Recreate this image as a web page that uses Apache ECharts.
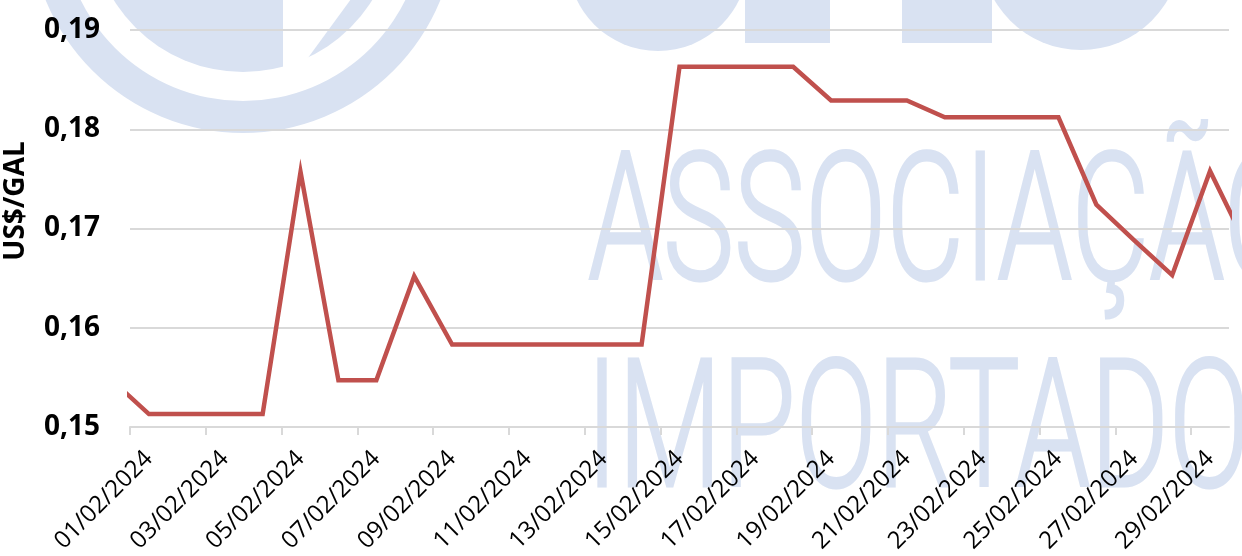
<!DOCTYPE html>
<html>
<head>
<meta charset="utf-8">
<script src="https://cdn.jsdelivr.net/npm/echarts@6/dist/echarts.min.js"></script>
<style>
  html, body { margin: 0; padding: 0; background: #fff; }
  #chart { width: 1242px; height: 556px; }
</style>
</head>
<body>
<div id="chart"></div>
<script>
// rótulos do eixo X (uma categoria por dia de fevereiro)
const dates = [
  '01/02/2024', '02/02/2024', '03/02/2024', '04/02/2024', '05/02/2024', '06/02/2024',
  '07/02/2024', '08/02/2024', '09/02/2024', '10/02/2024', '11/02/2024', '12/02/2024',
  '13/02/2024', '14/02/2024', '15/02/2024', '16/02/2024', '17/02/2024', '18/02/2024',
  '19/02/2024', '20/02/2024', '21/02/2024', '22/02/2024', '23/02/2024', '24/02/2024',
  '25/02/2024', '26/02/2024', '27/02/2024', '28/02/2024', '29/02/2024'
]
// a série vai de 31/01 (dia 0) até 01/03 (dia 30), as pontas ficam cortadas
const priceDays = [0, 1, 2, 3, 4, 5, 6, 7, 8, 9, 10, 11, 12, 13, 14, 15, 16, 17, 18, 19, 20,
  21, 22, 23, 24, 25, 26, 27, 28, 29, 30]
const prices = [
  0.1548,
  0.1513, 0.1513, 0.1513, 0.1513,
  0.1757,
  0.1547, 0.1547,
  0.1652,
  0.1583, 0.1583, 0.1583, 0.1583, 0.1583, 0.1583,
  0.1863, 0.1863, 0.1863, 0.1863,
  0.1829, 0.1829, 0.1829,
  0.1812, 0.1812, 0.1812, 0.1812,
  0.1724, 0.1688, 0.1653, 0.1758, 0.1680
]
const yMin = 0.15
const yMax = 0.19
const yStep = 0.01

const waterColor = '#D9E2F2'

// ticks nas fronteiras das categorias, a cada 2 dias; rótulos nos dias ímpares
const tickValues = []
const labelValues = []
for (let i = 0; i < dates.length; i += 2) {
  tickValues.push(i + 0.5)
  labelValues.push(i + 1)
}

const chart = echarts.init(document.getElementById('chart'))

const option = {
  animation: false,
  backgroundColor: '#fff',
  grid: { left: 130, right: 13, top: 30, bottom: 129, containLabel: false },
  graphic: {
    elements: [
      // marca d'água (logo + texto)
      { type: 'ring', z: -10, silent: true, shape: { cx: 243, cy: -80, r: 213, r0: 181 }, style: { fill: waterColor } },
      { type: 'circle', z: -10, silent: true, shape: { cx: 243, cy: -80, r: 152 }, style: { fill: waterColor } },
      { type: 'polygon', z: -9, silent: true, shape: { points: [[283, -5], [354, -5], [283, 92]] }, style: { fill: '#fff' } },
      { type: 'circle', z: -10, silent: true, shape: { cx: 658, cy: -39, r: 90 }, style: { fill: waterColor } },
      { type: 'rect', z: -10, silent: true, shape: { x: 745, y: -5, width: 85, height: 48 }, style: { fill: waterColor } },
      { type: 'rect', z: -10, silent: true, shape: { x: 902, y: -5, width: 90, height: 48 }, style: { fill: waterColor } },
      { type: 'circle', z: -10, silent: true, shape: { cx: 1081, cy: -50, r: 100 }, style: { fill: waterColor } },
      {
        type: 'text', z: -10, silent: true, x: 588, y: 234, scaleX: 0.67,
        style: { text: 'ASSOCIAÇÃO', font: '300 179px Roboto', fill: waterColor, stroke: waterColor, lineWidth: 3, align: 'left', verticalAlign: 'middle' }
      },
      {
        type: 'text', z: -10, silent: true, x: 586, y: 441, scaleX: 0.67,
        style: { text: 'IMPORTADORES', font: '300 179px Roboto', fill: waterColor, stroke: waterColor, lineWidth: 3, align: 'left', verticalAlign: 'middle' }
      },
      // título do eixo Y
      {
        type: 'text', x: 16, y: 201, rotation: Math.PI / 2,
        style: { text: 'US$/GAL', font: 'bold 28px "Open Sans"', fill: '#000', align: 'center', verticalAlign: 'middle' }
      }
    ]
  },
  xAxis: {
    type: 'value',
    min: 0.5,
    max: dates.length + 0.5,
    splitLine: { show: false },
    axisLine: { show: true, lineStyle: { color: '#D9D9D9', width: 2 } },
    axisTick: { show: true, length: 8, customValues: tickValues, lineStyle: { color: '#D9D9D9', width: 2 } },
    axisLabel: {
      customValues: labelValues,
      rotate: 45,
      margin: 28,
      color: '#000',
      fontFamily: 'Open Sans',
      fontSize: 24,
      formatter: v => dates[Math.round(v) - 1]
    }
  },
  yAxis: {
    type: 'value',
    min: yMin,
    max: yMax,
    interval: yStep,
    axisLine: { show: false },
    axisTick: { show: false },
    splitLine: { lineStyle: { color: '#D9D9D9', width: 2 } },
    axisLabel: {
      margin: 30,
      color: '#000',
      fontFamily: 'Open Sans',
      fontWeight: 'bold',
      fontSize: 28,
      formatter: v => v.toFixed(2).replace('.', ',')
    }
  },
  series: [
    {
      type: 'line',
      data: priceDays.map((d, i) => [d, prices[i]]),
      showSymbol: false,
      clip: true,
      lineStyle: { color: '#C0504D', width: 4.5, join: 'miter' },
      itemStyle: { color: '#C0504D' }
    }
  ]
}

chart.setOption(option)
</script>
</body>
</html>
